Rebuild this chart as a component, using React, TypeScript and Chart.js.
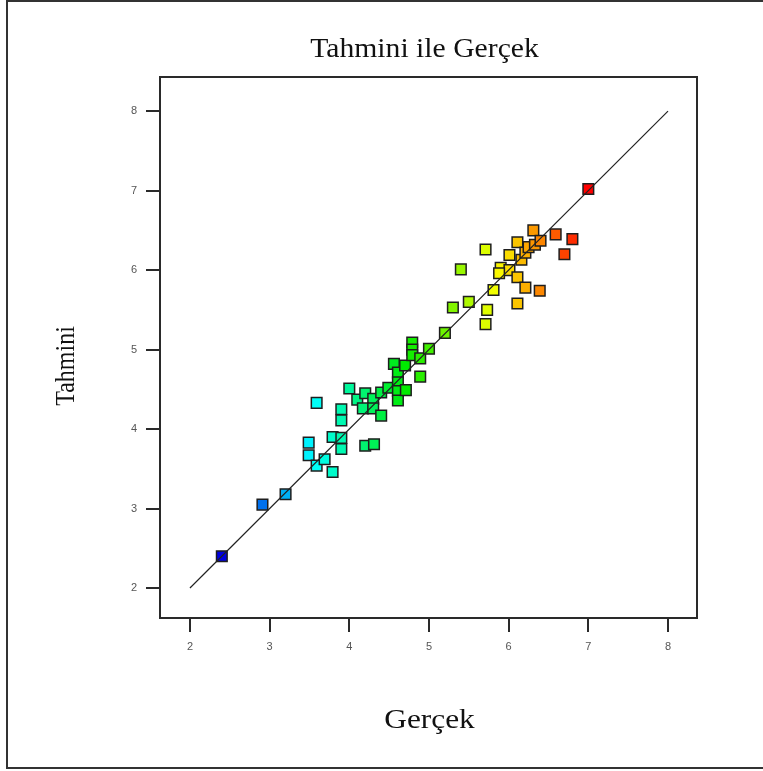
import React, { useEffect, useRef } from 'react';
import { Chart, registerables } from 'chart.js';

Chart.register(...registerables);

// Actual (Gerçek) values
const actual: number[] = [
  2.40, 2.91, 3.20, 3.49, 3.49, 3.59, 3.59, 3.69, 3.79, 3.79,
  3.90, 3.90, 3.90, 3.90, 4.00, 4.10, 4.20, 4.30, 4.17, 4.30,
  4.40, 4.40, 4.49, 4.20, 4.31, 4.56, 4.61, 4.61, 4.61, 4.61,
  4.71, 4.70, 4.79, 4.79, 4.79, 4.89, 4.89, 5.00, 5.20, 5.30,
  5.50, 5.40, 5.71, 5.73, 5.71, 5.81, 5.90, 6.01, 6.01, 6.11,
  6.11, 6.11, 6.21, 6.16, 6.21, 6.25, 6.31, 6.33, 6.40, 6.39,
  6.59, 6.70, 6.80, 7.00, 5.88,
];

// Predicted (Tahmini) values
const predicted: number[] = [
  2.40, 3.05, 3.18, 3.83, 3.67, 4.33, 3.54, 3.62, 3.46, 3.90,
  3.89, 3.75, 4.25, 4.11, 4.51, 4.37, 4.45, 4.38, 4.26, 4.26,
  4.17, 4.46, 4.52, 3.79, 3.81, 4.82, 4.71, 4.59, 4.48, 4.36,
  4.49, 4.80, 5.09, 5.00, 4.93, 4.89, 4.66, 5.01, 5.21, 5.53,
  5.60, 6.01, 6.26, 5.50, 5.32, 5.75, 6.03, 6.19, 6.00, 6.35,
  5.91, 5.58, 5.78, 6.13, 6.22, 6.29, 6.50, 6.32, 6.37, 5.74,
  6.45, 6.20, 6.39, 7.02, 5.96,
];

const tickValues: number[] = [2, 3, 4, 5, 6, 7, 8];
const lineEnds: number[] = [2, 8];

const chartTitle = 'Tahmini ile Gerçek';
const xTitle = 'Gerçek';
const yTitle = 'Tahmini';

const colorStops: [number, number[]][] = [
  [0, [0, 0, 225]],
  [0.25, [0, 255, 255]],
  [0.5, [0, 235, 0]],
  [0.75, [250, 255, 0]],
  [1, [255, 0, 0]],
];

function colorFor(v: number, lo: number, hi: number): string {
  const t = Math.max(0, Math.min(1, (v - lo) / (hi - lo)));
  for (let i = 1; i < colorStops.length; i++) {
    const [t1, c1] = colorStops[i];
    const [t0, c0] = colorStops[i - 1];
    if (t <= t1) {
      const f = (t - t0) / (t1 - t0);
      const c = c0.map((a, k) => Math.round(a + (c1[k] - a) * f));
      return `rgb(${c[0]},${c[1]},${c[2]})`;
    }
  }
  return 'rgb(255,0,0)';
}

export default function App() {
  const ref = useRef<HTMLCanvasElement>(null);

  useEffect(() => {
    document.body.style.margin = '0';
    const canvas = ref.current;
    if (!canvas) return;
    const lo = Math.min(...actual);
    const hi = Math.max(...actual);

    const framePlugin = {
      id: 'frame',
      afterDatasetsDraw(chart: any) {
        const { left, top, right, bottom } = chart.chartArea;
        const c = chart.ctx;
        c.save();
        c.strokeStyle = '#2a2a2a';
        c.lineWidth = 2;
        c.strokeRect(left, top, right - left, bottom - top);
        c.restore();
      },
    };

    const titlesPlugin = {
      id: 'titles',
      afterDraw(chart: any) {
        const c = chart.ctx;
        const { left, right } = chart.chartArea;
        const cx = (left + right) / 2;
        c.save();
        c.fillStyle = '#111';
        c.textAlign = 'center';
        c.textBaseline = 'alphabetic';
        c.font = '28px "Liberation Serif"';
        // main title
        c.save();
        c.translate(cx - 4, 57);
        c.scale(1.06, 1);
        c.fillText(chartTitle, 0, 0);
        c.restore();
        // x title
        c.save();
        c.translate(cx + 1, 728);
        c.scale(1.12, 1);
        c.fillText(xTitle, 0, 0);
        c.restore();
        // y title
        c.save();
        c.translate(67, 366);
        c.rotate(-Math.PI / 2);
        c.scale(1, 1.15);
        c.font = '24px "Liberation Serif"';
        c.textBaseline = 'middle';
        c.fillText(yTitle, 0, 0);
        c.restore();
        c.restore();
      },
    };

    const setTicks = (s: any) => {
      s.ticks = tickValues.map((v) => ({ value: v }));
    };

    const chart = new Chart(canvas, {
      type: 'scatter',
      data: {
        datasets: [
          {
            data: lineEnds.map((v) => ({ x: v, y: v })),
            showLine: true,
            borderColor: '#222',
            borderWidth: 1.2,
            pointRadius: 0,
            fill: false,
          } as any,
          {
            data: actual.map((x, i) => ({ x, y: predicted[i] })),
            pointStyle: 'rect',
            pointRadius: 7.5,
            pointBorderWidth: 1.5,
            pointBorderColor: '#1e1e1e',
            pointBackgroundColor: actual.map((v) => colorFor(v, lo, hi)),
          } as any,
        ],
      },
      options: {
        animation: false,
        responsive: false,
        maintainAspectRatio: false,
        layout: { padding: { left: 0, top: 77, right: 66, bottom: 0 } },
        plugins: {
          legend: { display: false },
          tooltip: { enabled: false },
          title: { display: false },
        },
        scales: {
          x: {
            type: 'linear',
            min: 1.624,
            max: 8.364,
            afterBuildTicks: setTicks,
            afterFit: (s: any) => {
              s.height = 153;
            },
            border: { display: false },
            grid: {
              drawOnChartArea: false,
              drawTicks: true,
              tickLength: 14,
              color: '#2a2a2a',
              lineWidth: 2,
            },
            ticks: {
              color: '#555',
              padding: 8,
              font: { family: '"Liberation Sans"', size: 11 },
            },
          },
          y: {
            type: 'linear',
            min: 1.623,
            max: 8.43,
            afterBuildTicks: setTicks,
            afterFit: (s: any) => {
              s.width = 160;
            },
            border: { display: false },
            grid: {
              drawOnChartArea: false,
              drawTicks: true,
              tickLength: 14,
              color: '#2a2a2a',
              lineWidth: 2,
            },
            ticks: {
              color: '#555',
              padding: 9,
              font: { family: '"Liberation Sans"', size: 11 },
            },
          },
        },
      } as any,
      plugins: [framePlugin, titlesPlugin],
    });

    return () => chart.destroy();
  }, []);

  return (
    <div
      style={{
        position: 'relative',
        width: 763,
        height: 771,
        overflow: 'hidden',
        background: '#fff',
      }}
    >
      <canvas ref={ref} width={763} height={771} style={{ display: 'block' }} />
      <div
        style={{
          position: 'absolute',
          left: 6,
          top: 0,
          width: 800,
          height: 769,
          boxSizing: 'border-box',
          borderLeft: '2px solid #333',
          borderTop: '2px solid #333',
          borderBottom: '2px solid #333',
          pointerEvents: 'none',
        }}
      />
    </div>
  );
}
